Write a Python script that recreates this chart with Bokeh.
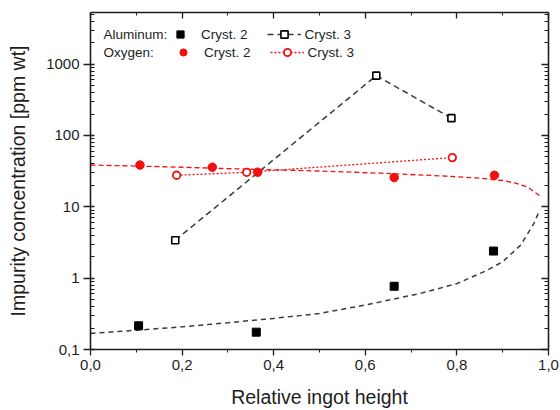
from bokeh.plotting import figure
from bokeh.models import FixedTicker, LinearAxis, LogAxis, Range1d, Legend, LegendItem, Label
from bokeh.embed import file_html
from bokeh.resources import INLINE

# Measured impurity concentrations [ppm wt] vs. relative ingot height
al2_h = [0.105, 0.362, 0.663, 0.880]
al2_c = [0.215, 0.175, 0.77, 2.4]

al3_h = [0.185, 0.624, 0.788]
al3_c = [3.4, 690.0, 175.0]

ox2_h = [0.108, 0.266, 0.365, 0.663, 0.882]
ox2_c = [38.5, 35.9, 30.6, 25.7, 27.7]

ox3_h = [0.188, 0.341, 0.790]
ox3_c = [27.7, 30.5, 49.0]

# Segregation fit curves for crystal 2
al2_fit_h = [0.0, 0.1, 0.2, 0.3, 0.4, 0.5, 0.6, 0.72, 0.8, 0.866, 0.9, 0.939, 0.968, 0.981]
al2_fit_c = [0.168, 0.186, 0.208, 0.237, 0.273, 0.32, 0.42, 0.61, 0.84, 1.29, 1.7, 2.9, 5.8, 9.1]

ox2_fit_h = [0.0, 0.1, 0.2, 0.3, 0.4, 0.5, 0.633, 0.764, 0.85, 0.9, 0.93, 0.955, 0.981]
ox2_fit_c = [38.6, 37.3, 35.9, 34.3, 33.0, 31.8, 29.6, 27.2, 25.2, 23.4, 21.3, 18.8, 14.3]

# Axis ticks
x_ticks = [0.0, 0.2, 0.4, 0.6, 0.8, 1.0]
x_tick_labels = ["0,0", "0,2", "0,4", "0,6", "0,8", "1,0"]
x_minor = [0.1, 0.3, 0.5, 0.7, 0.9]
y_ticks = [0.1, 1, 10, 100, 1000]
y_tick_labels = ["0,1", "1", "10", "100", "1000"]
y_minor = [k * 10.0 ** e for e in range(-1, 4) for k in range(2, 10)]

FONT = "Liberation Sans"
INK = "#1e1e1e"
RED = "#f01010"
GREY = "#3a3a3a"

p = figure(width=560, height=410, x_range=Range1d(0.0, 1.0), y_range=Range1d(0.1, 5300),
           y_axis_type="log", output_backend="svg", toolbar_location=None,
           min_border_left=90, min_border_right=12, min_border_top=12, min_border_bottom=60)
p.outline_line_color = None
p.grid.visible = False
p.background_fill_color = "white"
p.border_fill_color = "white"

xt = FixedTicker(ticks=x_ticks, minor_ticks=x_minor)
yt = FixedTicker(ticks=y_ticks, minor_ticks=y_minor)

top = LinearAxis()
right = LogAxis()
p.add_layout(top, "above")
p.add_layout(right, "right")

for ax in p.xaxis:
    ax.ticker = xt
for ax in p.yaxis:
    ax.ticker = yt

for ax in list(p.xaxis) + list(p.yaxis):
    ax.axis_line_color = INK
    ax.axis_line_width = 1.6
    ax.major_tick_line_color = INK
    ax.minor_tick_line_color = INK
    ax.major_tick_line_width = 1.3
    ax.minor_tick_line_width = 1.0
    ax.major_label_text_font = FONT
    ax.major_label_text_color = INK
    ax.major_label_text_font_size = "15px"
    ax.axis_label_text_font = FONT
    ax.axis_label_text_font_style = "normal"
    ax.axis_label_text_color = INK

bottom = p.below[0]
left = p.left[0]

bottom.major_label_overrides = dict(zip(x_ticks, x_tick_labels))
bottom.major_tick_out = 6
bottom.major_tick_in = 0
bottom.minor_tick_out = 3
bottom.minor_tick_in = 0
bottom.major_label_standoff = 4
bottom.axis_label = "Relative ingot height"
bottom.axis_label_text_font_size = "19.5px"
bottom.axis_label_standoff = 13

left.major_label_overrides = dict(zip(y_ticks, y_tick_labels))
left.major_tick_out = 7
left.major_tick_in = 4
left.minor_tick_out = 0
left.minor_tick_in = 4
left.major_label_standoff = 4
left.axis_label = "Impurity concentration [ppm wt]"
left.axis_label_text_font_size = "19.5px"
left.axis_label_standoff = 14

# Mirror axes: ticks only, no labels
top.major_label_overrides = {t: "" for t in x_ticks}
right.major_label_overrides = {t: "" for t in y_ticks}
for ax, major, minor in ((top, 6, 3), (right, 7, 4)):
    ax.major_tick_in = major
    ax.major_tick_out = 0
    ax.minor_tick_in = minor
    ax.minor_tick_out = 0
    ax.major_label_standoff = 0

# Fit curves and connecting lines
p.line(al2_fit_h, al2_fit_c, line_color=GREY, line_width=1.5, line_dash="5 4")
p.line(ox2_fit_h, ox2_fit_c, line_color=RED, line_width=1.3, line_dash="5 3")
r_al3_line = p.line(al3_h, al3_c, line_color=GREY, line_width=1.5, line_dash="6 4")
r_ox3_line = p.line(ox3_h, ox3_c, line_color=RED, line_width=1.3, line_dash="2 2")

# Markers
r_al2 = p.scatter(al2_h, al2_c, marker="square", size=8, fill_color="black", line_color="black")
r_al3 = p.scatter(al3_h, al3_c, marker="square", size=7, fill_color="white", line_color="black", line_width=1.6)
r_ox2 = p.scatter(ox2_h, ox2_c, marker="circle", size=8.5, fill_color=RED, line_color=RED)
r_ox3 = p.scatter(ox3_h, ox3_c, marker="circle", size=7.5, fill_color="white", line_color=RED, line_width=1.8)

legend_style = dict(orientation="horizontal", glyph_width=34, glyph_height=18, label_height=18,
                    label_standoff=4, spacing=19, padding=0, margin=0, border_line_color=None,
                    background_fill_alpha=0, label_text_font_size="13.5px", label_text_font=FONT,
                    label_text_color=INK)

leg_al = Legend(items=[LegendItem(label="Cryst. 2", renderers=[r_al2]),
                       LegendItem(label="Cryst. 3", renderers=[r_al3_line, r_al3])],
                location=(73, 306), **legend_style)
leg_ox = Legend(items=[LegendItem(label="Cryst. 2", renderers=[r_ox2]),
                       LegendItem(label="Cryst. 3", renderers=[r_ox3_line, r_ox3])],
                location=(76, 288), **legend_style)
p.add_layout(leg_al)
p.add_layout(leg_ox)

for text, ypos in (("Aluminum:", 315), ("Oxygen:", 297)):
    p.add_layout(Label(x=13, y=ypos, x_units="screen", y_units="screen", text=text,
                       text_font=FONT, text_font_size="13.5px", text_color=INK,
                       text_baseline="middle"))

open("out.html", "w").write(file_html(p, INLINE))
